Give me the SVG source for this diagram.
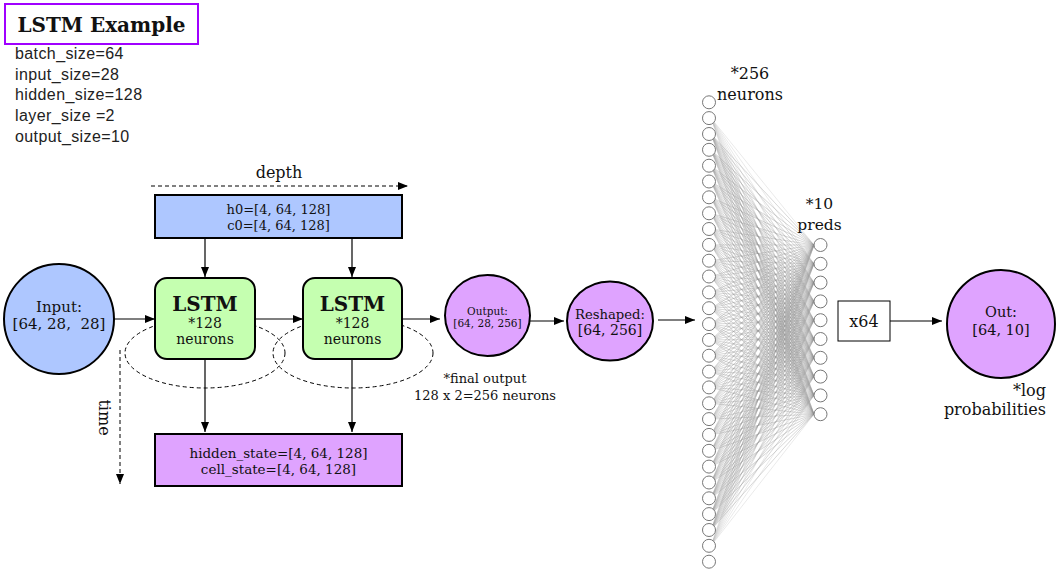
<svg xmlns="http://www.w3.org/2000/svg" width="1060" height="571" viewBox="0 0 1060 571">
<style>
.serif{font-family:"DejaVu Serif","Liberation Serif",serif;fill:#111}
.sans{font-family:"Liberation Sans",Arial,sans-serif;fill:#222;font-size:16px;letter-spacing:0.4px}
.mid{text-anchor:middle}
.end{text-anchor:end}
.box{stroke:#000;stroke-width:2}
.blue{fill:#aec7ff}
.green{fill:#c5ffb0}
.purple{fill:#dfa3ff}
.conn{stroke:#000;stroke-width:1.2;fill:none}
.dash{stroke:#000;stroke-width:1;fill:none;stroke-dasharray:4 3}
.nn{fill:#fff;stroke:#777;stroke-width:1}
.edge{fill:none;stroke:#9a9a9a;stroke-opacity:0.35;stroke-width:0.6}
</style>
<defs>
<marker id="arr" viewBox="0 0 10 8" refX="10" refY="4" markerWidth="10" markerHeight="8" markerUnits="userSpaceOnUse" orient="auto">
<path d="M0,0 L10,4 L0,8 z" fill="#000"/>
</marker>
</defs>
<rect width="1060" height="571" fill="#fff"/>

<g id="title">
<rect x="5" y="4" width="193" height="40" fill="#fff" stroke="#a000ff" stroke-width="2"/>
<text class="serif mid" x="101.5" y="32" font-size="20" font-weight="bold">LSTM Example</text>
</g>
<g id="params">
<text class="sans" x="15" y="59">batch_size=64</text>
<text class="sans" x="15" y="80">input_size=28</text>
<text class="sans" x="15" y="100">hidden_size=128</text>
<text class="sans" x="15" y="121">layer_size =2</text>
<text class="sans" x="15" y="142">output_size=10</text>
</g>

<g id="loops">
<ellipse class="dash" cx="205" cy="353" rx="80" ry="35"/>
<ellipse class="dash" cx="353" cy="353" rx="80" ry="35"/>
</g>

<g id="connectors">
<line class="dash" x1="151" y1="186" x2="408" y2="186" marker-end="url(#arr)"/>
<line class="dash" x1="120" y1="350" x2="120" y2="484" marker-end="url(#arr)"/>
<line class="conn" x1="114" y1="319" x2="155" y2="319" marker-end="url(#arr)"/>
<line class="conn" x1="255" y1="319" x2="303" y2="319" marker-end="url(#arr)"/>
<line class="conn" x1="402" y1="319" x2="440" y2="319" marker-end="url(#arr)"/>
<line class="conn" x1="205" y1="238" x2="205" y2="277" marker-end="url(#arr)"/>
<line class="conn" x1="352" y1="238" x2="352" y2="277" marker-end="url(#arr)"/>
<line class="conn" x1="205" y1="359" x2="205" y2="432" marker-end="url(#arr)"/>
<line class="conn" x1="352" y1="359" x2="352" y2="432" marker-end="url(#arr)"/>
<line class="conn" x1="530" y1="321" x2="564" y2="321" marker-end="url(#arr)"/>
<line class="conn" x1="658" y1="320" x2="695" y2="320" marker-end="url(#arr)"/>
<line class="conn" x1="890" y1="321" x2="942" y2="321" marker-end="url(#arr)"/>
</g>

<g id="depth-label"><text class="serif mid" x="279" y="178" font-size="16">depth</text></g>
<g id="time-label"><text class="serif mid" transform="translate(99,417.5) rotate(90)" font-size="16">time</text></g>

<g id="init-state">
<rect class="box blue" x="155" y="195" width="247" height="43"/>
<text class="serif mid" x="278.5" y="214" font-size="13">h0=[4, 64, 128]</text>
<text class="serif mid" x="278.5" y="230" font-size="13">c0=[4, 64, 128]</text>
</g>

<g id="input">
<circle class="box blue" cx="59" cy="319" r="55"/>
<text class="serif mid" x="59" y="311.5" font-size="15">Input:</text>
<text class="serif mid" x="59" y="328.5" font-size="15">[64, 28,&#160; 28]</text>
</g>

<g id="lstm1">
<rect class="box green" x="155" y="278" width="100" height="81" rx="12"/>
<text class="serif mid" x="205" y="310.5" font-size="20" font-weight="bold">LSTM</text>
<text class="serif mid" x="205" y="328" font-size="14">*128</text>
<text class="serif mid" x="205" y="344" font-size="14">neurons</text>
</g>
<g id="lstm2">
<rect class="box green" x="303" y="278" width="99" height="81" rx="12"/>
<text class="serif mid" x="352.5" y="310.5" font-size="20" font-weight="bold">LSTM</text>
<text class="serif mid" x="352.5" y="328" font-size="14">*128</text>
<text class="serif mid" x="352.5" y="344" font-size="14">neurons</text>
</g>

<g id="states">
<rect class="box purple" x="155" y="434" width="247" height="52"/>
<text class="serif mid" x="278.5" y="457.5" font-size="13.5">hidden_state=[4, 64, 128]</text>
<text class="serif mid" x="278.5" y="474" font-size="13.5">cell_state=[4, 64, 128]</text>
</g>

<g id="output">
<ellipse class="box purple" cx="487.5" cy="315.5" rx="42.5" ry="40.5"/>
<text class="serif mid" x="487.5" y="315" font-size="10.5">Output:</text>
<text class="serif mid" x="487.5" y="327" font-size="10.5">[64, 28, 256]</text>
</g>
<g id="final-note">
<text class="serif mid" x="485" y="383" font-size="13">*final output</text>
<text class="serif mid" x="485" y="400" font-size="13">128 x 2=256 neurons</text>
</g>

<g id="reshaped">
<ellipse class="box purple" cx="610" cy="321" rx="43" ry="39.5"/>
<text class="serif mid" x="610" y="319" font-size="13.2">Reshaped:</text>
<text class="serif mid" x="610" y="334.5" font-size="14">[64, 256]</text>
</g>

<g id="edges">
<path class="edge" d="M711 118.1L814 245L711 134L814 245L711 149.8L814 245L711 165.7L814 245L711 181.5L814 245L711 197.3L814 245L711 213.3L814 245L711 229L814 245L711 244.9L814 245L711 260.7L814 245L711 276.5L814 245L711 292.4L814 245L711 308.2L814 245L711 324.1L814 245L711 339.9L814 245L711 355.7L814 245L711 371.6L814 245L711 387.4L814 245L711 403.3L814 245L711 419.1L814 245L711 434.9L814 245L711 450.8L814 245L711 466.6L814 245L711 482.5L814 245L711 498.3L814 245L711 514.1L814 245L711 530L814 245L711 545.8"/>
<path class="edge" d="M711 118.1L814 263.8L711 134L814 263.8L711 149.8L814 263.8L711 165.7L814 263.8L711 181.5L814 263.8L711 197.3L814 263.8L711 213.3L814 263.8L711 229L814 263.8L711 244.9L814 263.8L711 260.7L814 263.8L711 276.5L814 263.8L711 292.4L814 263.8L711 308.2L814 263.8L711 324.1L814 263.8L711 339.9L814 263.8L711 355.7L814 263.8L711 371.6L814 263.8L711 387.4L814 263.8L711 403.3L814 263.8L711 419.1L814 263.8L711 434.9L814 263.8L711 450.8L814 263.8L711 466.6L814 263.8L711 482.5L814 263.8L711 498.3L814 263.8L711 514.1L814 263.8L711 530L814 263.8L711 545.8"/>
<path class="edge" d="M711 118.1L814 282.6L711 134L814 282.6L711 149.8L814 282.6L711 165.7L814 282.6L711 181.5L814 282.6L711 197.3L814 282.6L711 213.3L814 282.6L711 229L814 282.6L711 244.9L814 282.6L711 260.7L814 282.6L711 276.5L814 282.6L711 292.4L814 282.6L711 308.2L814 282.6L711 324.1L814 282.6L711 339.9L814 282.6L711 355.7L814 282.6L711 371.6L814 282.6L711 387.4L814 282.6L711 403.3L814 282.6L711 419.1L814 282.6L711 434.9L814 282.6L711 450.8L814 282.6L711 466.6L814 282.6L711 482.5L814 282.6L711 498.3L814 282.6L711 514.1L814 282.6L711 530L814 282.6L711 545.8"/>
<path class="edge" d="M711 118.1L814 301.4L711 134L814 301.4L711 149.8L814 301.4L711 165.7L814 301.4L711 181.5L814 301.4L711 197.3L814 301.4L711 213.3L814 301.4L711 229L814 301.4L711 244.9L814 301.4L711 260.7L814 301.4L711 276.5L814 301.4L711 292.4L814 301.4L711 308.2L814 301.4L711 324.1L814 301.4L711 339.9L814 301.4L711 355.7L814 301.4L711 371.6L814 301.4L711 387.4L814 301.4L711 403.3L814 301.4L711 419.1L814 301.4L711 434.9L814 301.4L711 450.8L814 301.4L711 466.6L814 301.4L711 482.5L814 301.4L711 498.3L814 301.4L711 514.1L814 301.4L711 530L814 301.4L711 545.8"/>
<path class="edge" d="M711 118.1L814 320.2L711 134L814 320.2L711 149.8L814 320.2L711 165.7L814 320.2L711 181.5L814 320.2L711 197.3L814 320.2L711 213.3L814 320.2L711 229L814 320.2L711 244.9L814 320.2L711 260.7L814 320.2L711 276.5L814 320.2L711 292.4L814 320.2L711 308.2L814 320.2L711 324.1L814 320.2L711 339.9L814 320.2L711 355.7L814 320.2L711 371.6L814 320.2L711 387.4L814 320.2L711 403.3L814 320.2L711 419.1L814 320.2L711 434.9L814 320.2L711 450.8L814 320.2L711 466.6L814 320.2L711 482.5L814 320.2L711 498.3L814 320.2L711 514.1L814 320.2L711 530L814 320.2L711 545.8"/>
<path class="edge" d="M711 118.1L814 339L711 134L814 339L711 149.8L814 339L711 165.7L814 339L711 181.5L814 339L711 197.3L814 339L711 213.3L814 339L711 229L814 339L711 244.9L814 339L711 260.7L814 339L711 276.5L814 339L711 292.4L814 339L711 308.2L814 339L711 324.1L814 339L711 339.9L814 339L711 355.7L814 339L711 371.6L814 339L711 387.4L814 339L711 403.3L814 339L711 419.1L814 339L711 434.9L814 339L711 450.8L814 339L711 466.6L814 339L711 482.5L814 339L711 498.3L814 339L711 514.1L814 339L711 530L814 339L711 545.8"/>
<path class="edge" d="M711 118.1L814 357.8L711 134L814 357.8L711 149.8L814 357.8L711 165.7L814 357.8L711 181.5L814 357.8L711 197.3L814 357.8L711 213.3L814 357.8L711 229L814 357.8L711 244.9L814 357.8L711 260.7L814 357.8L711 276.5L814 357.8L711 292.4L814 357.8L711 308.2L814 357.8L711 324.1L814 357.8L711 339.9L814 357.8L711 355.7L814 357.8L711 371.6L814 357.8L711 387.4L814 357.8L711 403.3L814 357.8L711 419.1L814 357.8L711 434.9L814 357.8L711 450.8L814 357.8L711 466.6L814 357.8L711 482.5L814 357.8L711 498.3L814 357.8L711 514.1L814 357.8L711 530L814 357.8L711 545.8"/>
<path class="edge" d="M711 118.1L814 376.6L711 134L814 376.6L711 149.8L814 376.6L711 165.7L814 376.6L711 181.5L814 376.6L711 197.3L814 376.6L711 213.3L814 376.6L711 229L814 376.6L711 244.9L814 376.6L711 260.7L814 376.6L711 276.5L814 376.6L711 292.4L814 376.6L711 308.2L814 376.6L711 324.1L814 376.6L711 339.9L814 376.6L711 355.7L814 376.6L711 371.6L814 376.6L711 387.4L814 376.6L711 403.3L814 376.6L711 419.1L814 376.6L711 434.9L814 376.6L711 450.8L814 376.6L711 466.6L814 376.6L711 482.5L814 376.6L711 498.3L814 376.6L711 514.1L814 376.6L711 530L814 376.6L711 545.8"/>
<path class="edge" d="M711 118.1L814 395.4L711 134L814 395.4L711 149.8L814 395.4L711 165.7L814 395.4L711 181.5L814 395.4L711 197.3L814 395.4L711 213.3L814 395.4L711 229L814 395.4L711 244.9L814 395.4L711 260.7L814 395.4L711 276.5L814 395.4L711 292.4L814 395.4L711 308.2L814 395.4L711 324.1L814 395.4L711 339.9L814 395.4L711 355.7L814 395.4L711 371.6L814 395.4L711 387.4L814 395.4L711 403.3L814 395.4L711 419.1L814 395.4L711 434.9L814 395.4L711 450.8L814 395.4L711 466.6L814 395.4L711 482.5L814 395.4L711 498.3L814 395.4L711 514.1L814 395.4L711 530L814 395.4L711 545.8"/>
<path class="edge" d="M711 118.1L814 414.2L711 134L814 414.2L711 149.8L814 414.2L711 165.7L814 414.2L711 181.5L814 414.2L711 197.3L814 414.2L711 213.3L814 414.2L711 229L814 414.2L711 244.9L814 414.2L711 260.7L814 414.2L711 276.5L814 414.2L711 292.4L814 414.2L711 308.2L814 414.2L711 324.1L814 414.2L711 339.9L814 414.2L711 355.7L814 414.2L711 371.6L814 414.2L711 387.4L814 414.2L711 403.3L814 414.2L711 419.1L814 414.2L711 434.9L814 414.2L711 450.8L814 414.2L711 466.6L814 414.2L711 482.5L814 414.2L711 498.3L814 414.2L711 514.1L814 414.2L711 530L814 414.2L711 545.8"/>
</g>

<g id="layer-256">
<circle class="nn" cx="709" cy="102.3" r="6.5"/>
<circle class="nn" cx="709" cy="118.1" r="6.5"/>
<circle class="nn" cx="709" cy="134" r="6.5"/>
<circle class="nn" cx="709" cy="149.8" r="6.5"/>
<circle class="nn" cx="709" cy="165.7" r="6.5"/>
<circle class="nn" cx="709" cy="181.5" r="6.5"/>
<circle class="nn" cx="709" cy="197.3" r="6.5"/>
<circle class="nn" cx="709" cy="213.3" r="6.5"/>
<circle class="nn" cx="709" cy="229" r="6.5"/>
<circle class="nn" cx="709" cy="244.9" r="6.5"/>
<circle class="nn" cx="709" cy="260.7" r="6.5"/>
<circle class="nn" cx="709" cy="276.5" r="6.5"/>
<circle class="nn" cx="709" cy="292.4" r="6.5"/>
<circle class="nn" cx="709" cy="308.2" r="6.5"/>
<circle class="nn" cx="709" cy="324.1" r="6.5"/>
<circle class="nn" cx="709" cy="339.9" r="6.5"/>
<circle class="nn" cx="709" cy="355.7" r="6.5"/>
<circle class="nn" cx="709" cy="371.6" r="6.5"/>
<circle class="nn" cx="709" cy="387.4" r="6.5"/>
<circle class="nn" cx="709" cy="403.3" r="6.5"/>
<circle class="nn" cx="709" cy="419.1" r="6.5"/>
<circle class="nn" cx="709" cy="434.9" r="6.5"/>
<circle class="nn" cx="709" cy="450.8" r="6.5"/>
<circle class="nn" cx="709" cy="466.6" r="6.5"/>
<circle class="nn" cx="709" cy="482.5" r="6.5"/>
<circle class="nn" cx="709" cy="498.3" r="6.5"/>
<circle class="nn" cx="709" cy="514.1" r="6.5"/>
<circle class="nn" cx="709" cy="530" r="6.5"/>
<circle class="nn" cx="709" cy="545.8" r="6.5"/>
<circle class="nn" cx="709" cy="561.7" r="6.5"/>
<text class="serif mid" x="750" y="78.5" font-size="16">*256</text>
<text class="serif mid" x="750" y="99.5" font-size="16">neurons</text>
</g>

<g id="layer-10">
<circle class="nn" cx="820.5" cy="245" r="6.5"/>
<circle class="nn" cx="820.5" cy="263.8" r="6.5"/>
<circle class="nn" cx="820.5" cy="282.6" r="6.5"/>
<circle class="nn" cx="820.5" cy="301.4" r="6.5"/>
<circle class="nn" cx="820.5" cy="320.2" r="6.5"/>
<circle class="nn" cx="820.5" cy="339" r="6.5"/>
<circle class="nn" cx="820.5" cy="357.8" r="6.5"/>
<circle class="nn" cx="820.5" cy="376.6" r="6.5"/>
<circle class="nn" cx="820.5" cy="395.4" r="6.5"/>
<circle class="nn" cx="820.5" cy="414.2" r="6.5"/>
<text class="serif mid" x="819.5" y="209" font-size="15.5">*10</text>
<text class="serif mid" x="819.5" y="230" font-size="15.5">preds</text>
</g>

<g id="x64">
<rect x="838" y="301" width="52" height="40" fill="#fff" stroke="#000" stroke-width="1"/>
<text class="serif mid" x="864" y="326.5" font-size="16">x64</text>
</g>

<g id="out">
<circle class="box purple" cx="1001" cy="324" r="54"/>
<text class="serif mid" x="1001" y="316.5" font-size="14.5">Out:</text>
<text class="serif mid" x="1001" y="335" font-size="14.5">[64, 10]</text>
<text class="serif end" x="1046" y="396" font-size="16">*log</text>
<text class="serif end" x="1046" y="415" font-size="16">probabilities</text>
</g>
</svg>
